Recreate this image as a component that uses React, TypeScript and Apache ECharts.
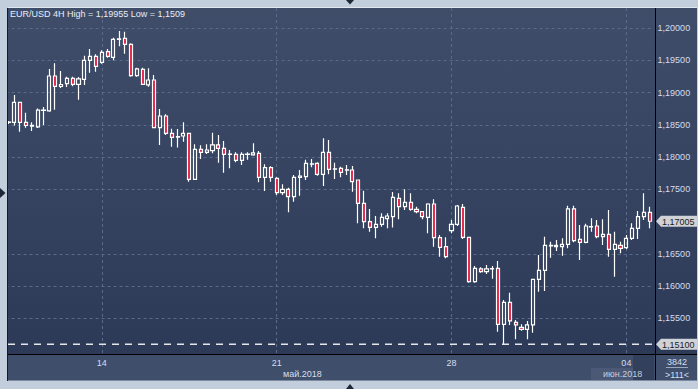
import { useEffect, useRef } from "react";
import * as echarts from "echarts";

const TITLE = "EUR/USD 4H High = 1,19955 Low = 1,1509";

const opens = [
  1.18535, 1.18538, 1.18848, 1.18538, 1.1848, 1.18466, 1.18724, 1.18714, 1.19256, 1.19093,
  1.19137, 1.1922, 1.19127, 1.19205, 1.19499, 1.19561, 1.19468, 1.19633, 1.19546, 1.19825,
  1.1984, 1.19747, 1.19261, 1.1936, 1.19117, 1.19194, 1.18455, 1.18636, 1.18368, 1.1831,
  1.18326, 1.18368, 1.17655, 1.1812, 1.18073, 1.18098, 1.18187, 1.18135, 1.1804, 1.18042,
  1.17949, 1.1804, 1.18032, 1.18058, 1.17686, 1.17835, 1.1767, 1.17447, 1.175, 1.17385,
  1.17686, 1.17695, 1.1789, 1.17903, 1.17732, 1.18073, 1.17812, 1.17825, 1.17796, 1.17799,
  1.17644, 1.17283, 1.16998, 1.16911, 1.16957, 1.17044, 1.17075, 1.1736, 1.1723, 1.17298,
  1.1719, 1.17153, 1.17066, 1.17272, 1.1675, 1.1661, 1.16858, 1.16957, 1.17221, 1.16756,
  1.16068, 1.16265, 1.16223, 1.16266, 1.16275, 1.15407, 1.15748, 1.15438, 1.15361, 1.1533,
  1.15397, 1.16105, 1.16244, 1.16622, 1.1661, 1.1661, 1.16647, 1.17195, 1.16725, 1.16678,
  1.16917, 1.16931, 1.16765, 1.16802, 1.1657, 1.16632, 1.16595, 1.1674, 1.16895, 1.17075,
  1.17143,
];
const closes = [
  1.1854, 1.18848, 1.18538, 1.18489, 1.1849, 1.18726, 1.18729, 1.19256, 1.19096, 1.19124,
  1.1922, 1.19127, 1.1921, 1.19499, 1.19561, 1.19406, 1.19623, 1.19561, 1.19825, 1.19832,
  1.19747, 1.19261, 1.19365, 1.19127, 1.19194, 1.18455, 1.18636, 1.18368, 1.18306, 1.18318,
  1.18368, 1.17655, 1.1812, 1.18073, 1.18109, 1.18187, 1.18135, 1.18042, 1.18046, 1.17949,
  1.18042, 1.18046, 1.18063, 1.17686, 1.17835, 1.17686, 1.17447, 1.175, 1.17385, 1.17686,
  1.17706, 1.17903, 1.17895, 1.17732, 1.18073, 1.1781, 1.17818, 1.17763, 1.17802, 1.17618,
  1.17283, 1.16998, 1.16911, 1.16957, 1.17066, 1.17086, 1.17376, 1.1723, 1.17298, 1.1719,
  1.17153, 1.17075, 1.17272, 1.1675, 1.16601, 1.16455, 1.16957, 1.17241, 1.16756, 1.16068,
  1.16275, 1.16223, 1.16265, 1.16272, 1.15407, 1.15748, 1.15459, 1.15397, 1.1533, 1.15397,
  1.16105, 1.16244, 1.16632, 1.1663, 1.16632, 1.16647, 1.17195, 1.16703, 1.16678, 1.16931,
  1.16923, 1.16765, 1.16802, 1.1657, 1.16647, 1.16585, 1.1674, 1.16895, 1.17075, 1.17143,
  1.17005,
];
const lows = [
  1.18512, 1.18489, 1.18393, 1.18455, 1.18404, 1.1845, 1.18497, 1.18703, 1.18734, 1.1907,
  1.19086, 1.19096, 1.18889, 1.19117, 1.19307, 1.19323, 1.19447, 1.1954, 1.19499, 1.19716,
  1.19602, 1.19245, 1.19245, 1.19117, 1.1909, 1.1845, 1.18187, 1.18342, 1.1816, 1.18148,
  1.18238, 1.17618, 1.17644, 1.1797, 1.18047, 1.18058, 1.17912, 1.17757, 1.17825, 1.17918,
  1.17877, 1.17959, 1.18021, 1.17608, 1.17474, 1.17618, 1.17412, 1.17412, 1.17143, 1.17308,
  1.17401, 1.17644, 1.17841, 1.17711, 1.17551, 1.17732, 1.1766, 1.17686, 1.17722, 1.17463,
  1.16973, 1.16895, 1.16843, 1.1674, 1.1692, 1.16895, 1.16908, 1.17035, 1.17179, 1.17168,
  1.17128, 1.17035, 1.16818, 1.1661, 1.16455, 1.1643, 1.16818, 1.16931, 1.1673, 1.16052,
  1.16052, 1.16207, 1.16187, 1.16114, 1.15293, 1.1509, 1.15397, 1.15175, 1.15308, 1.15175,
  1.15277, 1.15913, 1.15924, 1.1644, 1.16544, 1.16471, 1.16585, 1.16678, 1.16404, 1.16663,
  1.16843, 1.1674, 1.16637, 1.16455, 1.16145, 1.16508, 1.16575, 1.16714, 1.1673, 1.17024,
  1.16895,
];
const highs = [
  1.18559, 1.18962, 1.18855, 1.18686, 1.18538, 1.18752, 1.18776, 1.19365, 1.19453, 1.19334,
  1.19245, 1.19245, 1.19241, 1.19571, 1.19675, 1.19592, 1.19654, 1.19675, 1.1985, 1.19955,
  1.1994, 1.19763, 1.19385, 1.19385, 1.19375, 1.19272, 1.18745, 1.18662, 1.18439, 1.18435,
  1.18538, 1.18377, 1.18197, 1.18182, 1.18197, 1.18377, 1.18342, 1.18249, 1.18109, 1.18073,
  1.18073, 1.18073, 1.18213, 1.18094, 1.17887, 1.17856, 1.17686, 1.17577, 1.17525, 1.17722,
  1.17799, 1.17959, 1.1797, 1.17918, 1.1829, 1.18264, 1.17912, 1.1785, 1.17877, 1.17861,
  1.17652, 1.17478, 1.17195, 1.17086, 1.17128, 1.17128, 1.17458, 1.17438, 1.175, 1.17438,
  1.1723, 1.17164, 1.17283, 1.17345, 1.16792, 1.16756, 1.17024, 1.17257, 1.17272, 1.16756,
  1.16311, 1.16291, 1.16327, 1.16311, 1.16389, 1.15784, 1.15897, 1.15474, 1.15407, 1.15459,
  1.1611, 1.16482, 1.16765, 1.16688, 1.16714, 1.1674, 1.17246, 1.17246, 1.16947, 1.16967,
  1.1705, 1.17024, 1.17035, 1.17179, 1.16843, 1.16688, 1.16792, 1.16973, 1.17164, 1.17438,
  1.1723,
];

// 1,17000 is hidden behind the last-price tag in the reference (label and grid line)
const yTicks = [1.155, 1.16, 1.165, 1.175, 1.18, 1.185, 1.19, 1.195, 1.2];
const Y_MIN = 1.14947;
const Y_MAX = 1.2031;
const LOW_LEVEL = 1.151;
const LAST_PRICE = 1.17005;
const MONTH_LABELS = ["май.2018", "июн.2018"];
const BAR_COUNT = "3842";
const VISIBLE_BARS = ">111<";
const FIRST_BAR_UTC = Date.UTC(2018, 4, 9, 8);

const pad = (n: number) => (n < 10 ? "0" + n : String(n));

function buildBars(count: number) {
  const cats: string[] = [];
  const weekStart: boolean[] = [];
  let t = FIRST_BAR_UTC;
  while (cats.length < count) {
    const d = new Date(t);
    const wd = d.getUTCDay();
    if (wd !== 0 && wd !== 6) {
      cats.push(
        `${d.getUTCFullYear()}-${pad(d.getUTCMonth() + 1)}-${pad(d.getUTCDate())} ${pad(d.getUTCHours())}:00`
      );
      weekStart.push(wd === 1 && d.getUTCHours() === 0);
    }
    t += 4 * 3600 * 1000;
  }
  return { cats, weekStart };
}

const fmtPrice = (v: number) => v.toFixed(5).replace(".", ",");

const FONT = "'Liberation Sans', Arial, sans-serif";
const FRAME = "#c3cedc";
const LABEL = "#d4deee";

export default function App() {
  const ref = useRef<HTMLDivElement>(null);
  useEffect(() => {
    if (!ref.current) return;
    const chart = echarts.init(ref.current, undefined, { renderer: "svg" });
    const { cats, weekStart } = buildBars(opens.length);
    const data = opens.map((o, i) => [o, closes[i], lows[i], highs[i]]);
    const isWeek = (i: number) => !!weekStart[i];

    chart.setOption({
      animation: false,
      backgroundColor: FRAME,
      title: {
        text: TITLE,
        left: 10,
        top: 9,
        padding: 0,
        textStyle: { color: "#e8eef6", fontSize: 9, fontWeight: "normal", fontFamily: FONT },
      },
      grid: { left: 5.6, right: 45.4, top: 8, bottom: 35 },
      xAxis: {
        type: "category",
        data: cats,
        boundaryGap: true,
        axisLine: { show: false },
        axisTick: { show: false },
        axisLabel: {
          interval: (i: number) => isWeek(i),
          formatter: (v: string) => v.slice(8, 10),
          color: LABEL,
          fontSize: 9,
          fontFamily: FONT,
          margin: 4,
        },
        splitLine: {
          show: true,
          interval: (i: number) => isWeek(i),
          alignWithLabel: true,
          lineStyle: { color: "#5a6a8a", type: [3, 3], width: 1 },
        },
      },
      yAxis: {
        type: "value",
        position: "right",
        min: Y_MIN,
        max: Y_MAX,
        scale: true,
        axisLine: { show: false },
        axisTick: { show: false, customValues: yTicks },
        axisLabel: {
          customValues: yTicks,
          formatter: (v: number) => fmtPrice(v),
          color: LABEL,
          fontSize: 9,
          fontFamily: FONT,
          margin: 5,
        },
        splitLine: { show: true, lineStyle: { color: "#5a6a8a", type: [3, 3], width: 1 } },
      },
      series: [
        {
          type: "candlestick",
          data,
          barWidth: 3.6,
          clip: true,
          itemStyle: {
            color: "transparent",
            color0: "#e3173d",
            borderColor: "#ffffff",
            borderColor0: "#ffffff",
            borderWidth: 1.2,
          },
        },
      ],
    });

    const yLow = chart.convertToPixel({ yAxisIndex: 0 }, LOW_LEVEL) as number;
    const yLast = chart.convertToPixel({ yAxisIndex: 0 }, LAST_PRICE) as number;

    const priceTag = (y: number, v: number) => [
      {
        type: "polygon",
        z: 110,
        silent: true,
        shape: {
          points: [
            [656, y],
            [661, y - 5.5],
            [697, y - 5.5],
            [697, y + 5.5],
            [661, y + 5.5],
          ],
        },
        style: { fill: "#cfd2d7" },
      },
      {
        type: "text",
        z: 111,
        silent: true,
        x: 662,
        y: y + 0.5,
        style: {
          text: fmtPrice(v),
          fill: "#1c1c1c",
          fontSize: 9,
          fontFamily: FONT,
          verticalAlign: "middle",
          align: "left",
        },
      },
    ];

    const txt = (x: number, y: number, text: string, align: string, fill = LABEL, z = 105) => ({
      type: "text",
      z,
      silent: true,
      x,
      y,
      style: { text, fill, fontSize: 9, fontFamily: FONT, verticalAlign: "middle", align },
    });

    const line = (x1: number, y1: number, x2: number, y2: number, stroke: string, z = 101) => ({
      type: "line",
      z,
      silent: true,
      shape: { x1, y1, x2, y2 },
      style: { stroke, lineWidth: 1 },
    });

    chart.setOption({
      graphic: [
        {
          type: "rect",
          z: -100,
          silent: true,
          shape: { x: 8, y: 8, width: 689, height: 346 },
          style: {
            fill: new echarts.graphic.LinearGradient(0, 0, 0, 1, [
              { offset: 0, color: "#3f4d69" },
              { offset: 1, color: "#2c3a58" },
            ]),
          },
        },
        {
          type: "rect",
          z: -100,
          silent: true,
          shape: { x: 8, y: 354, width: 689, height: 26 },
          style: { fill: "#3f4e6b" },
        },
        {
          type: "rect",
          z: -90,
          silent: true,
          shape: { x: 591, y: 368, width: 42, height: 12 },
          style: { fill: "#4b5976" },
        },
        {
          type: "rect",
          z: -90,
          silent: true,
          shape: { x: 633, y: 354, width: 21, height: 26 },
          style: { fill: "#33405c" },
        },
        {
          type: "line",
          z: 5,
          silent: true,
          shape: { x1: 8, y1: yLow, x2: 655, y2: yLow },
          style: { stroke: "#e6e6e6", lineWidth: 1.5, lineDash: [7, 6] },
        },
        {
          type: "rect",
          z: 100,
          silent: true,
          shape: { x: 0, y: 0, width: 8, height: 389 },
          style: { fill: FRAME },
        },
        line(8, 7.5, 697, 7.5, "#e2e8f0"),
        line(7.5, 8, 7.5, 381, "#141a26"),
        line(655.5, 8, 655.5, 380, "#000000"),
        line(8, 354.5, 697, 354.5, "#000000"),
        line(8, 380.5, 697, 380.5, "#7d8aa0"),
        {
          type: "polygon",
          z: 102,
          silent: true,
          shape: { points: [[346, 0], [354, 0], [350, 4.5]] },
          style: { fill: "#1c2636" },
        },
        {
          type: "polygon",
          z: 102,
          silent: true,
          shape: { points: [[346, 389], [354, 389], [350, 384]] },
          style: { fill: "#1c2636" },
        },
        {
          type: "polygon",
          z: 102,
          silent: true,
          shape: { points: [[0, 188], [0, 198], [5.5, 193]] },
          style: { fill: "#1c2636" },
        },
        txt(283, 373.5, MONTH_LABELS[0], "left"),
        txt(603, 373.5, MONTH_LABELS[1], "left", "#c6cedc"),
        txt(677, 362, BAR_COUNT, "center"),
        line(666, 367.5, 688, 367.5, "#9aa6ba"),
        txt(677, 374.5, VISIBLE_BARS, "center"),
        ...priceTag(yLast, LAST_PRICE),
        ...priceTag(yLow, LOW_LEVEL),
      ],
    });

    return () => chart.dispose();
  }, []);

  return (
    <div
      ref={ref}
      style={{ position: "absolute", left: 0, top: 0, width: 698, height: 389 }}
    />
  );
}
